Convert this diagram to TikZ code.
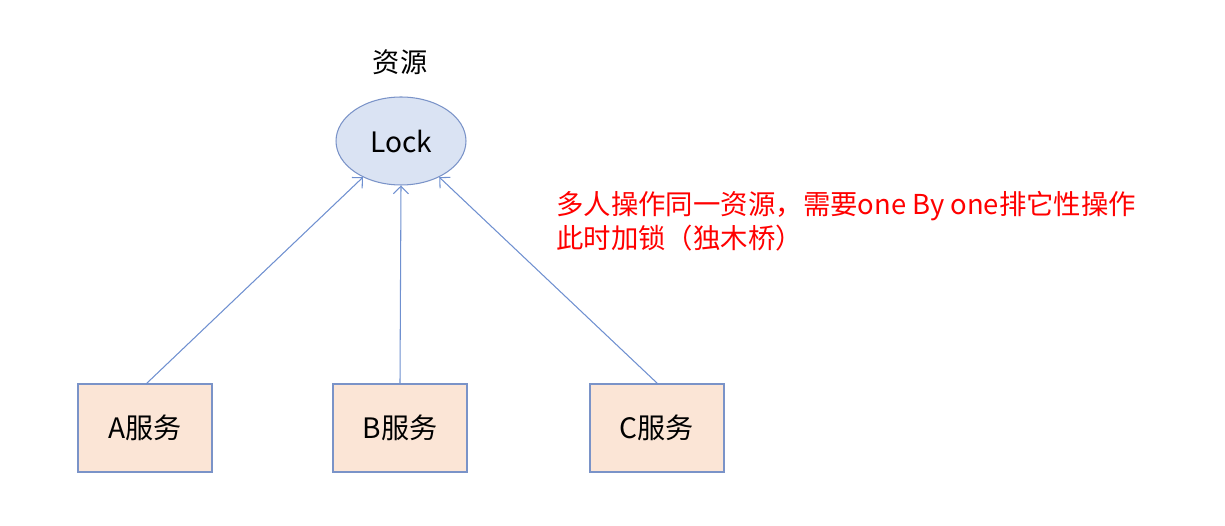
\documentclass[tikz,border=0pt]{standalone}
\usepackage{fontspec}
\setmainfont{Noto Sans CJK SC}
\usetikzlibrary{shapes.geometric,arrows.meta}
\definecolor{edgeblue}{HTML}{7A93C8}
\definecolor{lineblue}{HTML}{6F90D0}
\definecolor{lockfill}{HTML}{DAE3F3}
\definecolor{svcfill}{HTML}{FBE5D6}
\definecolor{notered}{HTML}{FF0000}
\tikzset{
  px/.style={x=0.02cm,y=-0.02cm},
  svc/.style={draw=edgeblue, fill=svcfill, line width=0.6pt, minimum width=2.68cm, minimum height=1.76cm, inner sep=0pt, font=\fontsize{16}{19}\selectfont},
  lockstyle/.style={ellipse, draw=edgeblue, fill=lockfill, line width=0.6pt, minimum width=2.6cm, minimum height=1.76cm, inner sep=0pt, font=\fontsize{16}{19}\selectfont},
  conn/.style={draw=lineblue, line width=0.6pt, -{Straight Barb[length=1.5mm,width=3mm]}},
  note/.style={text=notered, align=left, anchor=north west, inner sep=0pt, font=\fontsize{15.6}{19.3}\selectfont}
}
\begin{document}
\begin{tikzpicture}[px]
\useasboundingbox (0,0) rectangle (1225,526);
\node[lockstyle] (lock) at (401,141) {Lock};
\node[font=\fontsize{15.5}{18}\selectfont] (res) at (400,62) {资源};
\node[svc] (a) at (145,428) {A服务};
\node[svc] (b) at (400,428) {B服务};
\node[svc] (c) at (657,428) {C服务};
\coordinate (aa) at (146,384);
\coordinate (cc) at (658,384);
\draw[conn] (aa) -- (lock);
\draw[conn] (b.north) -- (lock.south);
\draw[conn] (cc) -- (lock);
\node[note] (txt) at (556,191) {多人操作同一资源，需要one By one排它性操作\\此时加锁（独木桥）};
\end{tikzpicture}
\end{document}
